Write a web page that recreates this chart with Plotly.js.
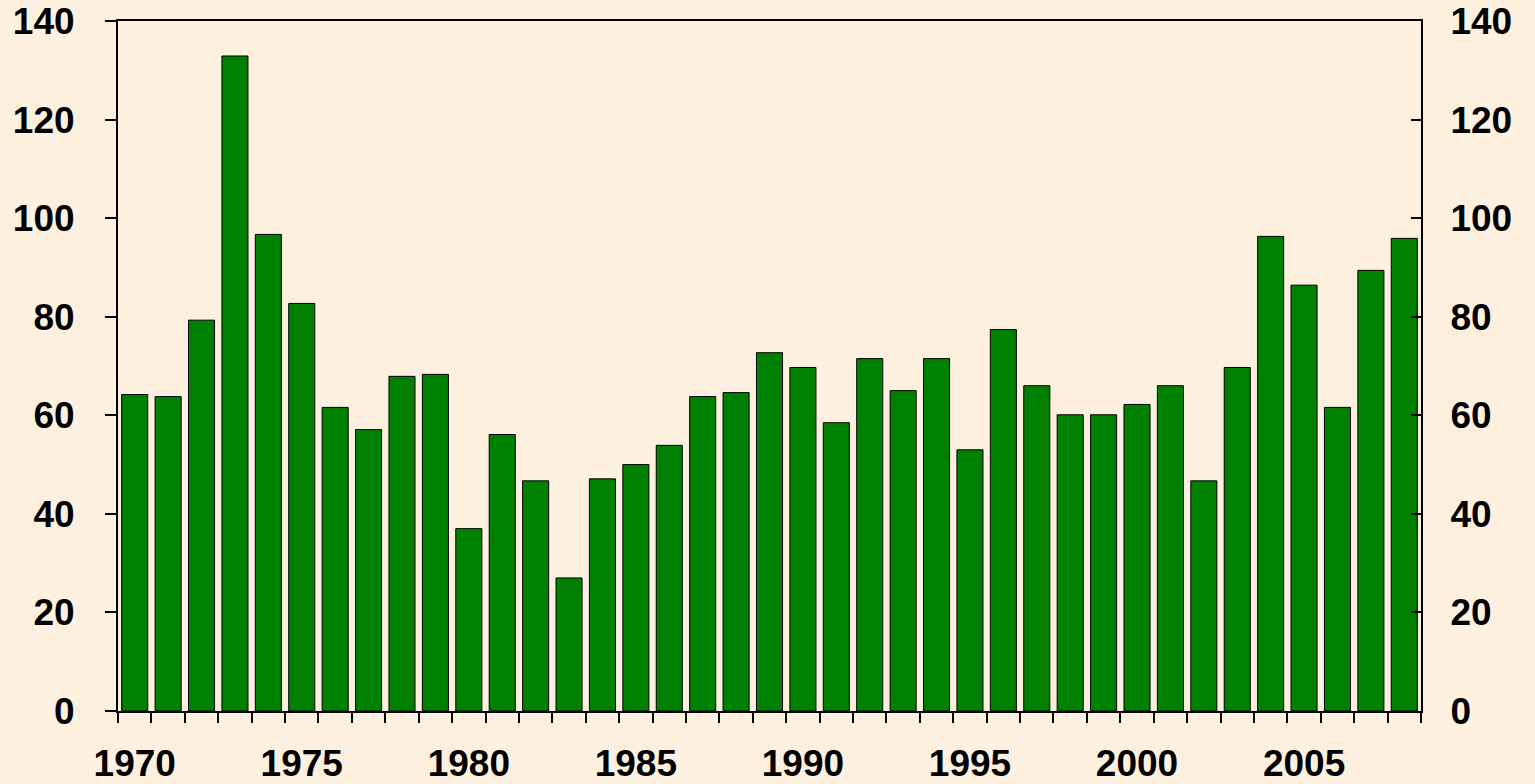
<!DOCTYPE html>
<html>
<head>
<meta charset="utf-8">
<script src="https://cdn.plot.ly/plotly-3.0.1.min.js"></script>
<style>
html,body{margin:0;padding:0;background:#FDF0DF;}
#chart{width:1535px;height:784px;}
</style>
</head>
<body>
<div id="chart"></div>
<script>
const years = [1970,1971,1972,1973,1974,1975,1976,1977,1978,1979,1980,1981,1982,1983,1984,1985,1986,1987,1988,1989,1990,1991,1992,1993,1994,1995,1996,1997,1998,1999,2000,2001,2002,2003,2004,2005,2006,2007,2008];
const values = [64.2,63.8,79.3,132.9,96.7,82.7,61.6,57.1,67.9,68.3,37.0,56.1,46.7,27.0,47.1,50.0,53.9,63.8,64.6,72.7,69.7,58.5,71.5,65.0,71.5,53.0,77.4,66.0,60.1,60.1,62.2,66.0,46.7,69.7,96.3,86.4,61.6,89.4,95.9];
const labelYears = [1970,1975,1980,1985,1990,1995,2000,2005];
const yTicks = [0,20,40,60,80,100,120,140];

const boundaries = years.map(y => y - 0.5).concat([years[years.length-1] + 0.5]);
const tickFont = {family: 'Liberation Sans, Arial, sans-serif', size: 37, color: '#000000', weight: 'bold'};

const trace = {
  type: 'bar',
  x: years,
  y: values,
  marker: {color: '#008000', line: {color: '#000000', width: 1}},
  hoverinfo: 'x+y'
};
// invisible companion so the right-hand axis is drawn
const rightAxisTrace = {
  type: 'scatter', mode: 'markers',
  x: years, y: values, yaxis: 'y2',
  marker: {size: 1, opacity: 0},
  hoverinfo: 'skip', showlegend: false
};

const layout = {
  width: 1535, height: 784,
  margin: {l: 118, r: 114, t: 21, b: 73},
  paper_bgcolor: 'rgba(0,0,0,0)',
  plot_bgcolor: 'rgba(0,0,0,0)',
  showlegend: false,
  bargap: 0.22,
  font: tickFont,
  xaxis: {
    range: [years[0] - 0.5, years[years.length-1] + 0.5],
    tickmode: 'array', tickvals: labelYears, ticktext: labelYears.map(String),
    ticks: '', showgrid: false, zeroline: false,
    showline: true, linecolor: '#000000', linewidth: 2, mirror: true,
    tickfont: tickFont, ticklabelstandoff: 19,
    minor: {tickmode: 'array', tickvals: boundaries, ticks: 'outside', ticklen: 10, tickwidth: 2, tickcolor: '#000000', showgrid: false}
  },
  yaxis: {
    range: [0, 140], tickmode: 'array', tickvals: yTicks,
    ticks: 'outside', ticklen: 11, tickwidth: 2, tickcolor: '#000000',
    showline: true, linecolor: '#000000', linewidth: 2,
    showgrid: false, zeroline: false,
    tickfont: tickFont, ticklabelstandoff: 23
  },
  yaxis2: {
    overlaying: 'y', side: 'right', anchor: 'x',
    range: [0, 140], tickmode: 'array', tickvals: yTicks,
    ticks: 'inside', ticklen: 10, tickwidth: 2, tickcolor: '#000000',
    showline: true, linecolor: '#000000', linewidth: 2,
    showgrid: false, zeroline: false,
    tickfont: tickFont, ticklabelstandoff: 20
  }
};

Plotly.newPlot('chart', [trace, rightAxisTrace], layout, {displayModeBar: false, staticPlot: true});
</script>
</body>
</html>
